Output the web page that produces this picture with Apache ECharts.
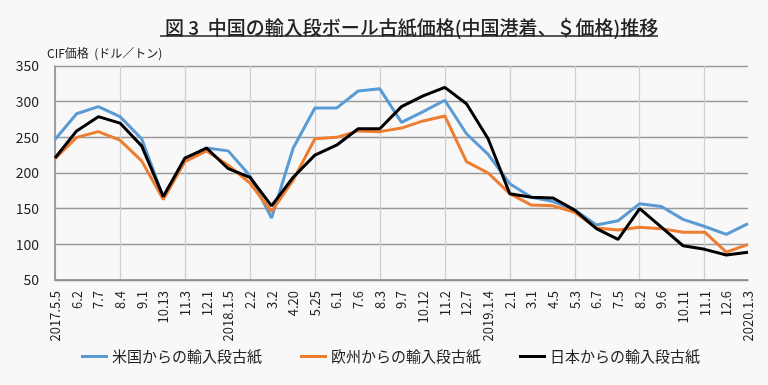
<!DOCTYPE html>
<html>
<head>
<meta charset="utf-8">
<script src="https://cdn.jsdelivr.net/npm/echarts@6/dist/echarts.min.js"></script>
<style>
html,body{margin:0;padding:0;background:#f8f8f8;}
#main{width:768px;height:385px;}
</style>
</head>
<body>
<div id="main"></div>
<script>
const categories = ['2017.5.5','6.2','7.7','8.4','9.1','10.13','11.3','12.1','2018.1.5','2.2','3.2','4.20','5.25','6.1','7.6','8.3','9.7','10.12','11.2','12.7','2019.1.4','2.1','3.1','4.5','5.3','6.7','7.5','8.2','9.6','10.11','11.1','12.6','2020.1.3'];
const usValues = [247, 283, 293, 279, 248, 166, 220, 235, 231, 196, 137, 235, 291, 291, 315, 318, 271, 286, 302, 255, 226, 185, 166, 160, 148, 127, 133, 157, 153, 135, 125, 114, 129];
const euValues = [220, 250, 258, 246, 217, 163, 216, 231, 211, 186, 146, 190, 248, 250, 259, 258, 263, 273, 280, 216, 200, 171, 155, 154, 145, 123, 120, 124, 122, 117, 117, 89, 100];
const jpValues = [221, 259, 279, 270, 238, 167, 221, 235, 206, 194, 154, 194, 225, 239, 262, 262, 293, 308, 320, 297, 248, 171, 166, 165, 148, 122, 107, 150, 124, 98, 93, 85, 89];
const seriesNames = ['米国からの輸入段古紙','欧州からの輸入段古紙','日本からの輸入段古紙'];
const titleText = '図 3  中国の輸入段ボール古紙価格(中国港着、＄価格)推移';
const unitText = 'CIF価格  (ドル／トン)';

const FONT = '"Noto Sans CJK JP", "Noto Sans", sans-serif';
const chart = echarts.init(document.getElementById('main'), null, {renderer:'canvas'});
chart.setOption({
  backgroundColor: '#f8f8f8',
  animation: false,
  textStyle: {fontFamily: FONT},
  title: [
    {text: titleText, left: 160, top: 13, textStyle: {fontFamily: FONT, fontSize: 19, fontWeight: 500, color: '#222'}},
    {text: unitText, left: 42, top: 42, textStyle: {fontFamily: FONT, fontSize: 12, fontWeight: 'normal', color: '#222'}}
  ],
  graphic: [
    {type: 'line', shape: {x1: 160, y1: 36, x2: 658, y2: 36}, style: {stroke: '#222', lineWidth: 1.3}}
  ],
  legend: {
    data: seriesNames,
    left: 76, top: 344,
    icon: 'rect', itemWidth: 27, itemHeight: 3, itemGap: 38,
    textStyle: {fontFamily: FONT, fontSize: 15, color: '#222', padding: [0,0,0,-1]}
  },
  grid: {left: 55, right: 20, top: 66, bottom: 105, containLabel: false},
  xAxis: {
    type: 'category', data: categories, boundaryGap: false,
    axisLine: {lineStyle: {color: '#888', width: 1.5}},
    axisTick: {show: false},
    axisLabel: {interval: 0, rotate: 90, fontFamily: FONT, fontSize: 13, color: '#222', margin: 11},
    splitLine: {show: true, interval: function(i){return i % 3 === 0;}, lineStyle: {color: '#cfcfcf', width: 1.3}}
  },
  yAxis: {
    type: 'value', min: 50, max: 350, interval: 50,
    axisLine: {show: true, lineStyle: {color: '#888', width: 1.5}},
    axisTick: {show: false},
    axisLabel: {fontFamily: FONT, fontSize: 14, color: '#222', margin: 16},
    splitLine: {lineStyle: {color: '#999', width: 1.3}}
  },
  series: [
    {name: seriesNames[0], type: 'line', data: usValues, symbol: 'none', lineStyle: {color: '#5B9BD5', width: 3}, itemStyle: {color: '#5B9BD5'}},
    {name: seriesNames[1], type: 'line', data: euValues, symbol: 'none', lineStyle: {color: '#ED7D31', width: 3}, itemStyle: {color: '#ED7D31'}},
    {name: seriesNames[2], type: 'line', data: jpValues, symbol: 'none', lineStyle: {color: '#000000', width: 3}, itemStyle: {color: '#000000'}}
  ]
});
</script>
</body>
</html>
